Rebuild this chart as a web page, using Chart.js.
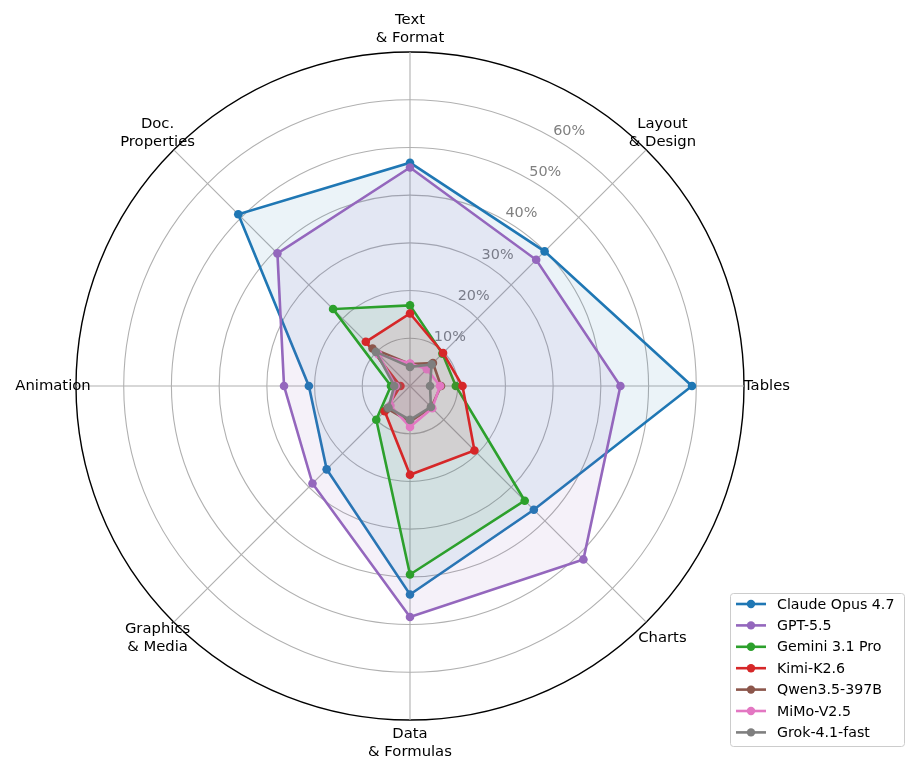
<!DOCTYPE html>
<html>
<head>
<meta charset="utf-8">
<script src="https://cdn.jsdelivr.net/npm/chart.js@4.4.1/dist/chart.umd.min.js"></script>
<style>
  html, body { margin: 0; padding: 0; background: #fff; }
  #wrap { width: 915px; height: 772px; }
</style>
</head>
<body>
<div id="wrap"><canvas id="radar" width="915" height="772"></canvas></div>
<script>
// categories, clockwise from the top
const categories = [
  ['Text', '& Format'], ['Layout', '& Design'], 'Tables', 'Charts',
  ['Data', '& Formulas'], ['Graphics', '& Media'], 'Animation', ['Doc.', 'Properties']
];

// scores in percent, same order as categories
const claudeOpus = [46.8, 39.9, 59.1, 36.7, 43.7, 24.7, 21.2, 50.9];
const gpt55      = [45.8, 37.4, 44.1, 51.4, 48.4, 28.9, 26.4, 39.3];
const gemini31   = [16.9, 9.6, 9.6, 34.0, 39.5, 10.0, 4.0, 22.8];
const kimiK26    = [15.2, 9.8, 11.0, 19.1, 18.6, 7.5, 2.0, 13.1];
const qwen35     = [4.6, 6.8, 6.5, 6.3, 7.5, 6.7, 2.6, 11.1];
const mimoV25    = [4.7, 5.0, 6.3, 6.6, 8.6, 5.8, 3.0, 9.4];
const grok41     = [4.0, 6.4, 4.2, 6.2, 7.1, 6.4, 3.3, 10.1];

const tickLabels = [10, 20, 30, 40, 50, 60];
const rMax = 70;

const FONT = '"DejaVu Sans", "Liberation Sans", sans-serif';

function rgba(hex, a) {
  const n = parseInt(hex.slice(1), 16);
  return `rgba(${(n >> 16) & 255}, ${(n >> 8) & 255}, ${n & 255}, ${a})`;
}

const series = [
  { label: 'Claude Opus 4.7', data: claudeOpus, color: '#1f77b4' },
  { label: 'GPT-5.5',         data: gpt55,      color: '#9467bd' },
  { label: 'Gemini 3.1 Pro',  data: gemini31,   color: '#2ca02c' },
  { label: 'Kimi-K2.6',       data: kimiK26,    color: '#d62728' },
  { label: 'Qwen3.5-397B',    data: qwen35,     color: '#8c564b' },
  { label: 'MiMo-V2.5',       data: mimoV25,    color: '#e377c2' },
  { label: 'Grok-4.1-fast',   data: grok41,     color: '#7f7f7f' }
];

// axis labels around the rim + the percent labels along a 30° ray
const radarText = {
  id: 'radarText',
  beforeDatasetsDraw(chart) {
    const s = chart.scales.r;
    const ctx = chart.ctx;
    ctx.save();
    ctx.font = '14.4px ' + FONT;
    ctx.fillStyle = '#808080';
    ctx.textAlign = 'left';
    ctx.textBaseline = 'bottom';
    tickLabels.forEach(v => {
      const p = s.getPointPosition(0, s.getDistanceFromCenterForValue(v), Math.PI / 6);
      ctx.fillText(v + '%', p.x, p.y);
    });
    ctx.restore();
  },
  afterDraw(chart) {
    const s = chart.scales.r;
    const ctx = chart.ctx;
    ctx.save();
    ctx.font = '14.8px ' + FONT;
    ctx.fillStyle = '#000';
    ctx.textAlign = 'center';
    ctx.textBaseline = 'middle';
    chart.data.labels.forEach((lab, i) => {
      const p = s.getPointPosition(i, s.drawingArea + 23);
      const lines = [].concat(lab);
      lines.forEach((t, k) => {
        ctx.fillText(t, p.x, p.y + (k - (lines.length - 1) / 2) * 18);
      });
    });
    ctx.restore();
  }
};

// boxed legend, lower right
const boxLegend = {
  id: 'boxLegend',
  afterDraw(chart) {
    const ctx = chart.ctx;
    const bx = 730, by = 593, bw = 174, bh = 153, row = 21.4;
    ctx.save();
    ctx.fillStyle = 'rgba(255,255,255,0.8)';
    ctx.strokeStyle = '#cccccc';
    ctx.lineWidth = 1;
    ctx.beginPath();
    ctx.roundRect(bx + 0.5, by + 0.5, bw, bh, 3);
    ctx.fill();
    ctx.stroke();
    ctx.font = '14.2px ' + FONT;
    ctx.textAlign = 'left';
    ctx.textBaseline = 'middle';
    chart.data.datasets.forEach((ds, i) => {
      const y = by + 11 + i * row;
      ctx.strokeStyle = ds.borderColor;
      ctx.lineWidth = 2.6;
      ctx.beginPath();
      ctx.moveTo(736, y);
      ctx.lineTo(766, y);
      ctx.stroke();
      ctx.fillStyle = ds.borderColor;
      ctx.beginPath();
      ctx.arc(751, y, 4.2, 0, Math.PI * 2);
      ctx.fill();
      ctx.fillStyle = '#000';
      ctx.fillText(ds.label, 777, y + 1);
    });
    ctx.restore();
  }
};

new Chart(document.getElementById('radar'), {
  type: 'radar',
  data: {
    labels: categories,
    datasets: series.map((s, i) => ({
      label: s.label,
      data: s.data,
      borderColor: s.color,
      backgroundColor: rgba(s.color, 0.09),
      pointBackgroundColor: s.color,
      pointBorderColor: s.color,
      pointBorderWidth: 0,
      pointRadius: 4.3,
      borderWidth: 2.6,
      fill: true,
      tension: 0,
      order: series.length - i
    }))
  },
  options: {
    responsive: false,
    animation: false,
    devicePixelRatio: 1,
    layout: { padding: { left: 76, top: 52, right: 171, bottom: 52 } },
    plugins: {
      legend: { display: false },
      tooltip: { enabled: false }
    },
    scales: {
      r: {
        min: 0,
        max: rMax,
        ticks: { stepSize: 10, display: false },
        pointLabels: { display: false },
        grid: {
          circular: true,
          color: ctx => ctx.tick && ctx.tick.value === rMax ? '#000000' : '#b0b0b0',
          lineWidth: ctx => ctx.tick && ctx.tick.value === rMax ? 1.4 : 1.1
        },
        angleLines: { color: '#b0b0b0', lineWidth: 1.1 }
      }
    }
  },
  plugins: [radarText, boxLegend]
});
</script>
</body>
</html>
